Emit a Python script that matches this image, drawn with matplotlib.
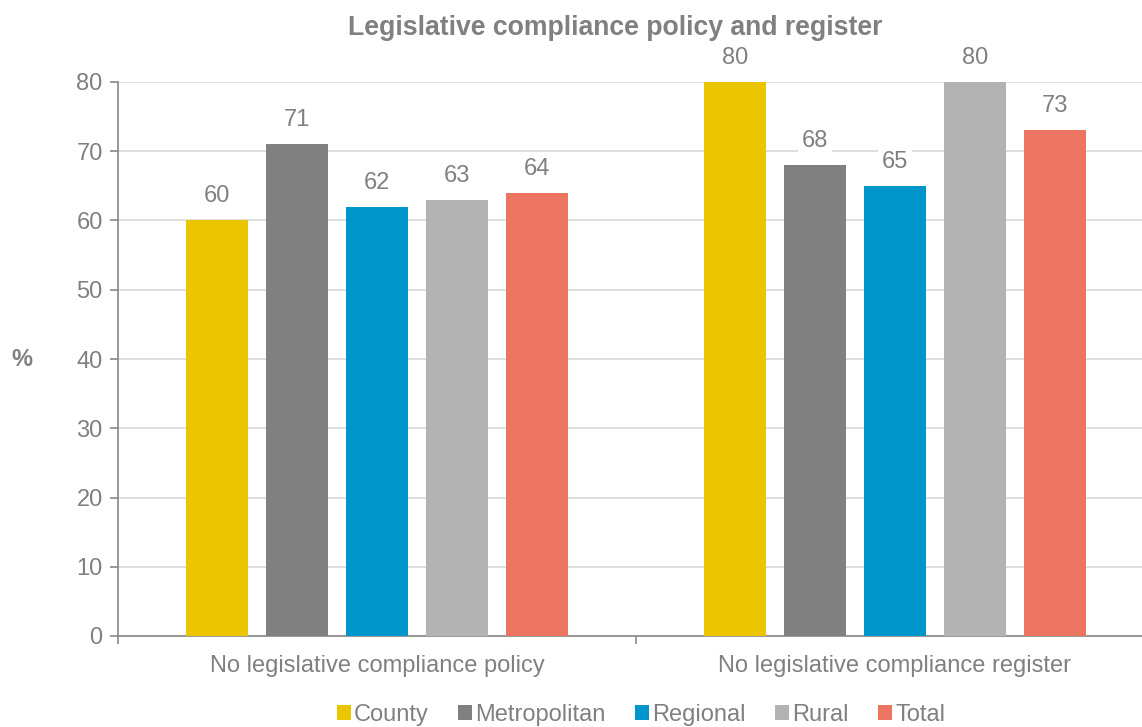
import matplotlib
matplotlib.use("Agg")
import matplotlib.pyplot as plt
import numpy as np

plt.rcParams['font.family'] = ['Liberation Sans', 'DejaVu Sans']

categories = ["No legislative compliance policy", "No legislative compliance register"]
series = ["County", "Metropolitan", "Regional", "Rural", "Total"]
values = {
    "County": [60, 80],
    "Metropolitan": [71, 68],
    "Regional": [62, 65],
    "Rural": [63, 80],
    "Total": [64, 73],
}
colors = ["#EAC500", "#808080", "#0096CC", "#B3B3B3", "#EC7561"]
text_color = "#808080"

W, H = 1142, 727
fig = plt.figure(figsize=(W / 100, H / 100), dpi=100)
ax = fig.add_axes([118 / W, 1 - 636 / H, 1036 / W, (636 - 82) / H])

x = np.arange(len(categories))
bw = 62 / 518
step = 80 / 518
for i, s in enumerate(series):
    pos = x + (i - 2) * step
    bars = ax.bar(pos, values[s], width=bw, color=colors[i], label=s, zorder=3)
    for b, v in zip(bars, values[s]):
        ax.annotate(f"{v}", (b.get_x() + b.get_width() / 2, v), xytext=(0, 24),
                    textcoords="offset pixels", ha="center", va="center",
                    fontsize=17, color=text_color, zorder=4,
                    bbox=dict(boxstyle="square,pad=0.15", fc="white", ec="none"))

ax.set_xlim(-0.5, 1.5)
ax.set_ylim(0, 80)
ax.set_yticks(range(0, 81, 10))
ax.set_xticks([-0.5, 0.5, 1.5], minor=False)
ax.set_xticklabels([])
ax.set_xticks(x, minor=True)
ax.set_xticklabels(categories, minor=True)
ax.tick_params(axis="x", which="major", length=6, color="#888888", width=1.2)
ax.tick_params(axis="x", which="minor", length=0, pad=14, labelsize=17, labelcolor=text_color)
ax.tick_params(axis="y", length=6, color="#888888", width=1.2, labelsize=17, labelcolor=text_color, pad=5)

ax.grid(axis="y", color="#D9D9D9", linewidth=1.2, zorder=0)
for sp in ["top", "right"]:
    ax.spines[sp].set_visible(False)
for sp in ["left", "bottom"]:
    ax.spines[sp].set_color("#888888")
    ax.spines[sp].set_linewidth(1.2)

fig.text(615 / W, 1 - 28 / H, "Legislative compliance policy and register", ha="center", va="center",
         fontsize=19.2, fontweight="bold", color=text_color)
fig.text(22 / W, 1 - 360 / H, "%", ha="center", va="center", fontsize=17, fontweight="bold", color=text_color)

leg = fig.legend(loc="center", bbox_to_anchor=(641 / W, 1 - 715 / H), ncol=5, frameon=False,
                 fontsize=17, handlelength=0.6, handleheight=0.6, handletextpad=0.12,
                 columnspacing=1.25, labelcolor=text_color, borderpad=0)

fig.savefig("out.png", dpi=100)
